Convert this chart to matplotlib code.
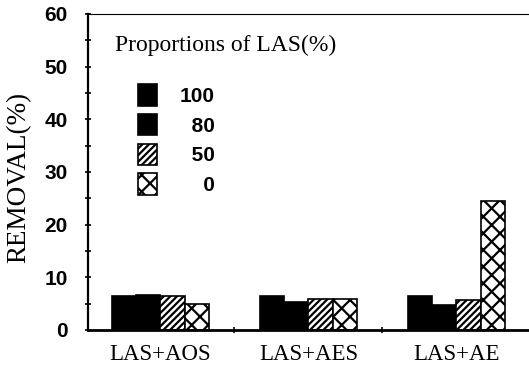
import matplotlib.pyplot as plt
import numpy as np

# data
groups = ["LAS+AOS", "LAS+AES", "LAS+AE"]
proportions = ["100", "80", "50", "0"]
removal_100 = [6.4, 6.4, 6.4]
removal_80 = [6.7, 5.4, 4.8]
removal_50 = [6.4, 5.9, 5.6]
removal_0 = [4.9, 5.8, 24.4]

series = [removal_100, removal_80, removal_50, removal_0]
hatches = [None, None, "/////", "xx"]
faces = ["black", "black", "white", "white"]

plt.rcParams["font.family"] = ["Liberation Serif", "DejaVu Serif"]
plt.rcParams["hatch.linewidth"] = 1.6
narrow = ["Liberation Sans Narrow", "Liberation Sans", "DejaVu Sans"]

fig = plt.figure(figsize=(5.29, 3.65), dpi=100)
ax = fig.add_axes([0.166, 0.096, 0.834, 0.866])

x = np.arange(len(groups))
w = 0.164
handles = []
for i, vals in enumerate(series):
    b = ax.bar(x + (i - 1.5) * w, vals, w, color=faces[i], edgecolor="black",
               hatch=hatches[i], linewidth=1.2)
    handles.append(b)

ax.set_xlim(-0.49, 2.49)
ax.set_ylim(0, 60)
ax.set_yticks(np.arange(0, 61, 10))
ax.set_yticks(np.arange(5, 60, 10), minor=True)
ax.set_xticks(x)
ax.set_xticklabels(groups, fontsize=16.5)
ax.set_xticks([0.5, 1.5], minor=True)
ax.tick_params(axis="x", which="major", length=0, pad=10)
ax.tick_params(axis="x", which="minor", length=4, direction="inout", width=1.2)
ax.tick_params(axis="y", which="major", length=5, direction="inout", width=1.2,
               labelsize=15, pad=12)
ax.tick_params(axis="y", which="minor", length=4, direction="inout", width=1.2)
for t in ax.get_yticklabels():
    t.set_fontweight("bold")
    t.set_family(narrow)

ax.spines["left"].set_linewidth(1.6)
ax.spines["bottom"].set_linewidth(2.0)
ax.spines["top"].set_linewidth(0.8)
ax.spines["right"].set_visible(False)

ax.set_ylabel("REMOVAL(%)", fontsize=19.5)
ax.yaxis.set_label_coords(-0.128, 0.484)

# legend title drawn separately so the entries sit indented under it
ax.text(0.061, 0.90, "Proportions of LAS(%)", transform=ax.transAxes,
        fontsize=17, va="center", ha="left")
fs = "\u2007"
labels = ["100", fs + "80", fs + "50", fs + fs + "0"]
leg = ax.legend(handles, labels, frameon=False,
                loc="upper left", bbox_to_anchor=(0.072, 0.836), fontsize=15,
                handlelength=0.9, handleheight=1.2,
                handletextpad=1.1, labelspacing=0.38)
for t in leg.get_texts():
    t.set_fontweight("bold")
    t.set_family(narrow)

fig.savefig("out.png", dpi=100)
